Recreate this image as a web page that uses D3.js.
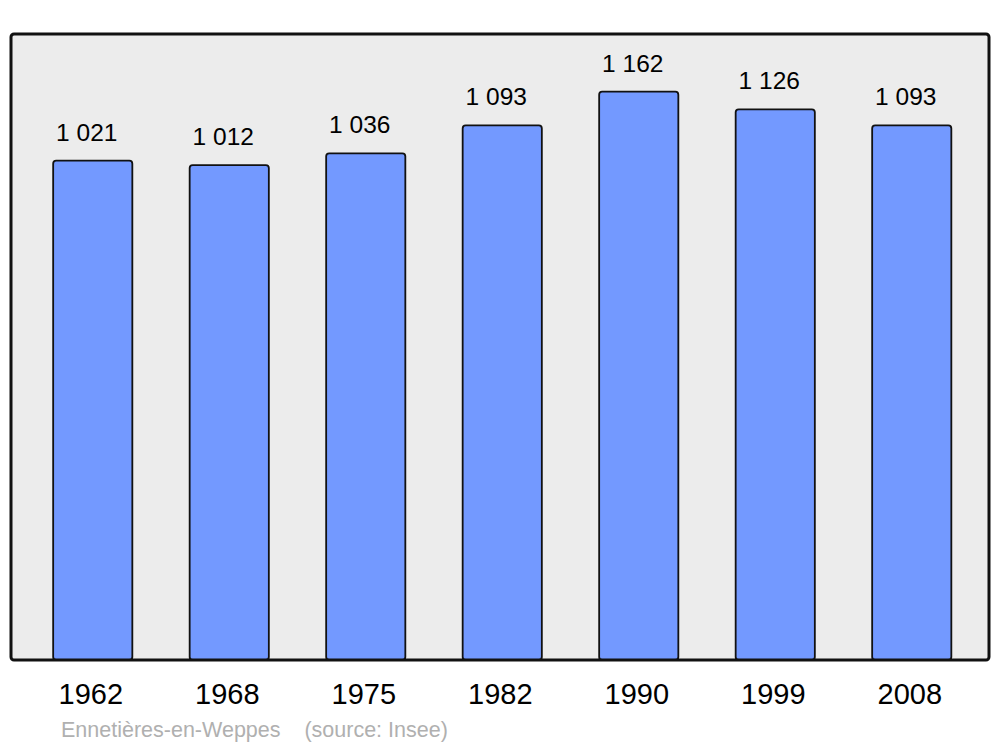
<!DOCTYPE html>
<html>
<head>
<meta charset="utf-8">
<script src="https://cdn.jsdelivr.net/npm/d3@7"></script>
<style>
  body { margin: 0; background: #fff; }
  text { font-family: "Liberation Sans", Arial, sans-serif; }
</style>
</head>
<body>
<div id="chart"></div>
<script>
// data
var years = ["1962", "1968", "1975", "1982", "1990", "1999", "2008"];
var population = [1021, 1012, 1036, 1093, 1162, 1126, 1093];
var valueLabels = ["1 021", "1 012", "1 036", "1 093", "1 162", "1 126", "1 093"];

var width = 1000, height = 747;
var frame = {left: 11, top: 34, right: 989, bottom: 660};

var svg = d3.select("#chart").append("svg")
    .attr("width", width)
    .attr("height", height);

// plot background
svg.append("rect")
    .attr("x", frame.left)
    .attr("y", frame.top)
    .attr("width", frame.right - frame.left)
    .attr("height", frame.bottom - frame.top)
    .attr("rx", 3)
    .attr("fill", "#ececec");

// scales
var x = d3.scaleBand()
    .domain(years)
    .range([24.5, 980])
    .paddingInner(0.42)
    .paddingOuter(0.21);

var y = d3.scaleLinear()
    .domain([0, 1280])
    .range([frame.bottom, frame.top]);

// bars
svg.selectAll(".bar")
    .data(years)
    .enter().append("rect")
    .attr("class", "bar")
    .attr("x", function(d) { return x(d); })
    .attr("y", function(d, i) { return y(population[i]); })
    .attr("width", x.bandwidth())
    .attr("height", function(d, i) { return y(0) - y(population[i]); })
    .attr("rx", 3)
    .attr("fill", "#7399ff")
    .attr("stroke", "#111")
    .attr("stroke-width", 1.8);

// value labels
svg.selectAll(".val")
    .data(years)
    .enter().append("text")
    .attr("class", "val")
    .attr("x", function(d) { return x(d) + x.bandwidth() / 2 - 6; })
    .attr("y", function(d, i) { return y(population[i]) - 20; })
    .attr("text-anchor", "middle")
    .attr("font-size", 24.5)
    .attr("fill", "#000")
    .text(function(d, i) { return valueLabels[i]; });

// frame border on top
svg.append("rect")
    .attr("x", frame.left)
    .attr("y", frame.top)
    .attr("width", frame.right - frame.left)
    .attr("height", frame.bottom - frame.top)
    .attr("rx", 3)
    .attr("fill", "none")
    .attr("stroke", "#111")
    .attr("stroke-width", 3);

// x axis labels
var xAxis = svg.append("g")
    .attr("transform", "translate(0," + frame.bottom + ")")
    .call(d3.axisBottom(x).tickSize(0).tickPadding(23));
xAxis.select(".domain").remove();
xAxis.selectAll("text")
    .attr("font-size", 29)
    .attr("font-family", "Liberation Sans, Arial, sans-serif")
    .attr("fill", "#000")
    .attr("dx", -2);

// footer
svg.append("text")
    .attr("x", 61)
    .attr("y", 737)
    .attr("font-size", 21.5)
    .attr("fill", "#b0b0b0")
    .attr("xml:space", "preserve")
    .style("white-space", "pre")
    .text("Ennetières-en-Weppes    (source: Insee)");
</script>
</body>
</html>
